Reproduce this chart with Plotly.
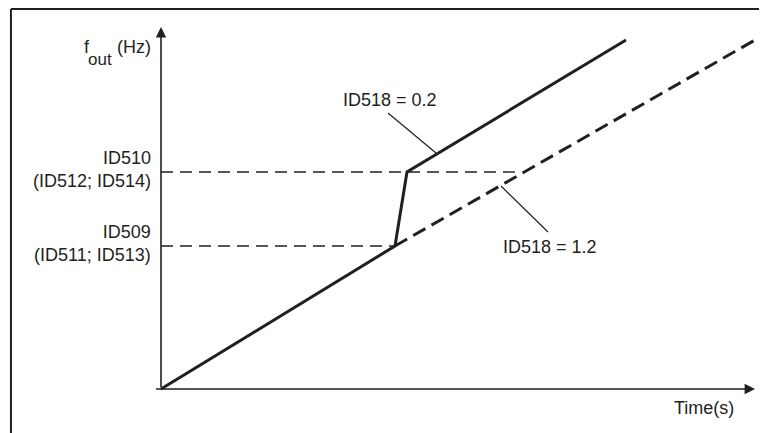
import plotly.graph_objects as go

# curve points (time, frequency) in arbitrary units
time_02 = [0, 23.4, 24.6, 46.5]
freq_02 = [0, 14.3, 21.7, 34.9]
time_12 = [23.4, 59.4]
freq_12 = [14.3, 34.9]

# frequency limits and where their guide lines end
limit_labels = ["ID509<br>(ID511; ID513)", "ID510<br>(ID512; ID514)"]
limit_freq = [14.3, 21.7]
limit_end = [23.4, 35.7]

# curve labels and leader lines
curve_labels = ["ID518 = 0.2", "ID518 = 1.2"]
label_pos = [(22.9, 28.9), (38.9, 14.2)]
leader_from = [(22.7, 27.6), (34.0, 20.3)]
leader_to = [(27.5, 23.6), (38.7, 15.7)]

ink = "#231f20"
fnt = dict(family="Liberation Sans, Arial, sans-serif", size=18, color=ink)

fig = go.Figure()

for f, xe in zip(limit_freq, limit_end):
    fig.add_trace(go.Scatter(x=[0, xe], y=[f, f], mode="lines",
                             line=dict(color=ink, width=1.4, dash="12px,7px"),
                             hoverinfo="skip"))

fig.add_trace(go.Scatter(x=time_12, y=freq_12, mode="lines",
                         line=dict(color=ink, width=3, dash="14px,7px")))
fig.add_trace(go.Scatter(x=time_02, y=freq_02, mode="lines",
                         line=dict(color=ink, width=3)))

for a, b in zip(leader_from, leader_to):
    fig.add_trace(go.Scatter(x=[a[0], b[0]], y=[a[1], b[1]], mode="lines",
                             line=dict(color=ink, width=1.2)))

# axes with arrow heads
fig.add_annotation(x=59.4, y=0, ax=-0.8, ay=0, xref="x", yref="y", axref="x", ayref="y",
                   showarrow=True, arrowhead=2, arrowsize=1.3, arrowwidth=1.6,
                   arrowcolor=ink, text=" ")
fig.add_annotation(x=0, y=36.2, ax=0, ay=-0.8, xref="x", yref="y", axref="x", ayref="y",
                   showarrow=True, arrowhead=2, arrowsize=1.3, arrowwidth=1.6,
                   arrowcolor=ink, text=" ")

for txt, f in zip(limit_labels, limit_freq):
    fig.add_annotation(x=0, y=f, xref="paper", yref="y", text=txt, showarrow=False,
                       xanchor="right", yanchor="middle", align="right", yshift=3,
                       font=fnt)

for txt, p in zip(curve_labels, label_pos):
    fig.add_annotation(x=p[0], y=p[1], text=txt, showarrow=False,
                       xanchor="center", yanchor="middle", font=fnt)

# y axis title: f with a full-size subscript, then the unit
fig.add_annotation(x=-0.1168, y=34.2, xref="paper", yref="y", text="f",
                   showarrow=False, xanchor="left", yanchor="middle", font=fnt)
fig.add_annotation(x=-0.1102, y=33.0, xref="paper", yref="y", text="out",
                   showarrow=False, xanchor="left", yanchor="middle",
                   font=dict(fnt, size=17))
fig.add_annotation(x=0.0, y=34.2, xref="paper", yref="y", text="(Hz)",
                   showarrow=False, xanchor="right", yanchor="middle", font=fnt)

fig.add_annotation(x=54.3, y=-0.0297, xref="x", yref="paper", text="Time(s)",
                   showarrow=False, xanchor="center", yanchor="middle", font=fnt)

# frame (left and top edges)
fig.add_shape(type="line", xref="paper", yref="paper", x0=-0.2336, x1=-0.2336,
              y0=-0.2, y1=1.0486, line=dict(color=ink, width=2))
fig.add_shape(type="line", xref="paper", yref="paper", x0=-0.2336, x1=1.05,
              y0=1.0486, y1=1.0486, line=dict(color=ink, width=2))

# page has an 8px body margin, so the figure is 8px smaller than the window
fig.update_layout(
    width=759, height=425,
    margin=dict(l=145, r=6, t=19, b=36),
    showlegend=False,
    plot_bgcolor="white", paper_bgcolor="white",
    xaxis=dict(range=[-0.8, 60.0], visible=False),
    yaxis=dict(range=[-0.8, 36.2], visible=False),
)

fig.write_html("out.html")
